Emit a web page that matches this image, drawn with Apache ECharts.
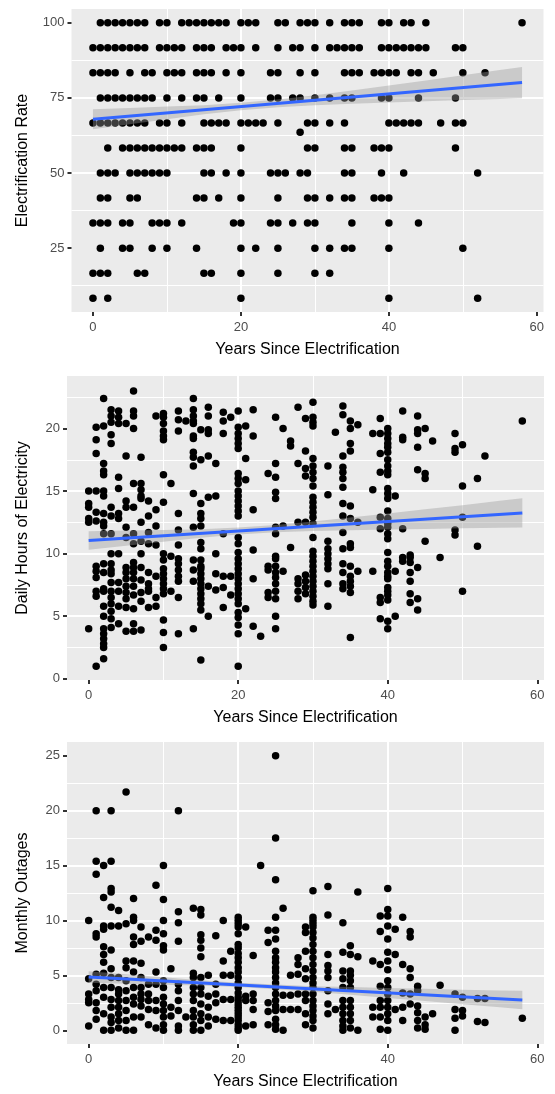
<!DOCTYPE html>
<html><head><meta charset="utf-8">
<script src="https://cdn.jsdelivr.net/npm/echarts@6/dist/echarts.min.js"></script>
<style>html,body{margin:0;padding:0;background:#fff}#c{width:555px;height:1094px}</style>
</head><body><div id="c"></div>
<script>
// ---------- tick labels ----------
const xTicks = [0, 20, 40, 60];
const rateTicks = [25, 50, 75, 100];
const hoursTicks = [0, 5, 10, 15, 20];
const outageTicks = [0, 5, 10, 15, 20, 25];

// ---------- panel 1: electrification rate (discrete levels) ----------
const rateLevels = [100, 91.67, 83.33, 75, 66.67, 58.33, 50, 41.67, 33.33, 25, 16.67, 8.33];
const rateYears = [
  [1,2,3,4,5,6,7,9,10,12,13,14,15,16,17,18,20,21,22,25,26,28,29,30,32,34,35,36,39,40,42,43,45,58],
  [0,1,2,3,4,5,6,7,9,10,11,12,14,15,16,18,19,20,22,25,27,28,30,32,33,34,35,36,39,40,41,42,43,44,45,49,50],
  [0,1,2,3,5,7,8,10,11,12,14,15,16,18,20,24,25,28,30,34,35,36,38,39,40,41,43,44,46,50,53],
  [1,2,3,4,5,6,7,8,10,12,14,15,17,20,24,25,27,28,30,32,34,35,39,40,44,49],
  [0,1,2,3,4,5,6,7,9,10,12,15,16,17,18,20,21,22,23,25,29,30,32,34,40,41,42,43,44,47,49,50],
  [2,4,5,6,7,8,9,10,11,12,14,15,16,20,29,30,34,35,38,39,40,49],
  [1,2,3,5,6,7,8,9,10,15,16,18,20,24,25,26,28,29,34,35,39,42,52],
  [1,2,5,6,14,15,17,20,25,29,30,32,34,35,38,39,40],
  [0,1,2,4,5,8,9,10,12,19,20,24,25,27,29,30,35,40,44],
  [1,4,5,8,10,14,20,22,25,30,32,34,35,40,50],
  [0,1,2,6,7,15,16,20,25,30,32],
  [0,2,20,40,52]
];
const rateExtra = [[28, 63.6]];

// ---------- panel 2: daily hours (year, [hours...]) ----------
const hoursCols = [
  [0, [15.0,14.0,13.7,12.8,12.5,4.0]],
  [1, [20.1,19.1,18.0,15.0,13.3,12.6,9.0,8.6,8.1,7.0,6.6,1.0]],
  [2, [22.4,20.2,17.2,16.6,16.3,15.0,14.6,13.2,12.5,12.2,11.6,9.2,8.5,7.2,7.0,5.8,5.0,4.0,3.6,3.2,2.8,2.5,1.6]],
  [3, [21.5,21.0,20.5,19.5,18.8,13.7,13.0,11.6,10.0,9.2,8.7,8.4,7.7,7.0,6.5,6.0,5.4,4.8,4.1]],
  [4, [21.4,20.9,20.4,16.1,15.2,13.2,12.8,10.0,7.7,7.0,5.8,4.4]],
  [5, [20.4,17.8,14.2,13.7,12.1,11.3,8.9,8.5,8.0,7.4,6.9,6.4,5.7,3.8]],
  [6, [23.0,21.4,21.0,20.0,15.6,13.7,11.6,10.8,9.3,8.9,8.5,8.0,7.4,6.7,5.6,4.4,3.8]],
  [7, [17.7,15.6,15.1,14.6,14.4,12.5,11.0,10.0,8.9,7.9,6.9,6.2,3.9]],
  [8, [14.2,13.0,11.7,10.8,8.5,7.6,7.2,7.0,5.7]],
  [9, [21.0,13.5,12.2,10.7,8.2,6.5,5.8]],
  [10, [21.2,20.9,20.4,19.8,19.4,19.1,16.3,14.1,10.0,9.5,8.8,8.4,8.0,7.6,7.2,6.8,4.7,3.7,2.5]],
  [11, [15.6,9.8,7.0]],
  [12, [21.4,20.7,19.8,13.2,11.9,10.7,9.6,9.2,8.7,8.2,7.8,6.5,3.6]],
  [13, [20.6]],
  [14, [22.4,21.5,21.0,20.6,20.4,19.4,19.2,18.1,17.7,17.0,14.8,12.1,9.5,8.7,7.8,4.0]],
  [15, [19.9,17.5,14.0,13.2,12.8,12.2,10.9,10.4,9.5,9.0,8.8,8.4,8.0,7.6,7.2,6.8,6.4,6.0,5.5,1.5]],
  [16, [21.7,21.0,19.9,19.6,17.8,14.5,7.4,5.0]],
  [17, [17.2,14.6,10.0,8.4,7.1]],
  [18, [21.3,20.6,19.6,11.6,8.2,7.3,5.7]],
  [19, [20.9,8.2,6.7]],
  [20, [21.4,20.1,19.6,19.2,18.8,18.4,16.4,16.0,15.6,15.0,14.6,14.2,13.8,13.4,13.0,11.3,10.8,10.1,9.6,9.2,8.8,8.4,8.0,7.6,7.2,6.8,6.4,6.0,5.3,4.9,4.3,3.6,1.0]],
  [21, [20.2,17.6,15.9,5.6]],
  [22, [21.5,19.4,13.5,10.3,8.0,4.2]],
  [23, [3.4]],
  [24, [16.4,9.0,8.7,6.9,6.5]],
  [25, [20.9,17.2,16.1,14.9,14.4,12.1,11.6,9.8,9.6,9.0,8.5,8.1,7.6,7.0,6.4,5.0,4.0]],
  [26, [20.0,12.2,8.6]],
  [27, [19.0,18.6,10.5]],
  [28, [21.7,17.2,12.5,8.0,7.6,7.0,6.4]],
  [29, [20.8,18.2,16.8,16.2,12.5,8.3,7.8,7.3,6.8]],
  [30, [22.1,20.9,20.5,20.2,17.6,17.0,16.5,16.0,15.4,14.5,14.1,13.7,13.3,12.9,12.4,11.3,10.2,9.8,9.4,9.0,8.6,8.2,7.8,7.4,7.0,6.6,6.2,5.9]],
  [32, [17.0,14.7,11.0,10.4,10.0,9.6,9.2,8.8,7.6,5.8]],
  [33, [19.7]],
  [34, [21.8,21.1,17.8,16.9,16.5,16.0,15.3,14.0,13.0,11.7,10.4,9.2,8.5,7.6,7.2]],
  [35, [20.6,20.0,18.8,18.2,13.8,12.8,10.8,10.5,9.0,8.2,7.8,7.4,6.9,3.3]],
  [36, [20.3,12.5,8.6]],
  [38, [19.6,15.1,8.6]],
  [39, [20.8,19.6,18.0,16.5,12.9,12.0,6.5,6.1,4.8]],
  [40, [20.0,19.6,19.2,18.8,18.5,18.1,17.5,17.0,16.6,16.3,15.2,14.8,14.4,13.4,12.8,12.4,12.1,11.6,11.2,10.1,9.4,9.0,8.5,8.2,8.0,7.3,7.0,6.7,6.3,4.6,4.0]],
  [41, [14.6,8.6,5.0]],
  [42, [21.4,19.3,19.1,12.0,9.7,9.4]],
  [43, [9.9,9.7,9.3,8.5,7.8,6.8,6.1]],
  [44, [21.0,19.9,19.6,18.5,16.7,8.9,6.4,5.5]],
  [45, [20.0,16.4,16.0,11.0]],
  [46, [19.0]],
  [47, [9.7]],
  [49, [19.6,18.4,18.1,11.9,11.5]],
  [50, [18.7,15.4,12.9,7.0]],
  [52, [16.0,10.6]],
  [53, [17.8]],
  [58, [20.6]]
];

// ---------- panel 3: monthly outages (year, [outages...]) ----------
const outageCols = [
  [0, [10.0,4.7,3.3,2.8,2.5,0.4]],
  [1, [20.0,15.4,14.2,8.8,8.5,5.1,4.2,3.6,2.5,1.8,1.0]],
  [2, [15.0,12.1,9.5,9.2,7.6,6.9,6.2,5.2,3.9,3.0,1.5,0]],
  [3, [20.0,15.4,12.9,12.6,11.2,9.5,7.3,5.6,4.8,3.9,2.8,2.1,1.2,0.7,0]],
  [4, [10.9,9.5,4.8,3.7,3.3,2.7,2.1,1.5,0.9,0.2]],
  [5, [21.7,9.7,6.3,5.7,4.5,3.6,2.7,1.8,0.9,0]],
  [6, [12.0,10.3,10.0,8.5,7.8,6.3,5.3,3.9,3.0,2.4,1.2,0]],
  [7, [9.4,8.1,6.1,4.8,3.9,3.3,2.8,2.2,1.2]],
  [8, [8.5,4.2,3.3,2.7,1.9,0.5]],
  [9, [13.2,9.1,8.2,5.3,4.2,2.7,1.8,0.2]],
  [10, [15.0,11.9,10.0,8.8,7.7,7.3,4.5,3.9,3.0,2.4,1.8,1.2,0.5,0]],
  [11, [5.6,2.1,1.3]],
  [12, [20.0,10.8,9.8,8.1,4.2,3.6,2.7,1.8,0.4,0]],
  [13, [1.2]],
  [14, [11.1,5.2,4.8,3.9,3.3,2.7,1.8,1.2,0.5,0]],
  [15, [11.0,10.5,8.7,8.2,7.5,6.7,4.8,3.9,3.3,2.4,1.5,0.9,0]],
  [16, [5.0,3.1,2.1,1.2,0.4]],
  [17, [8.6,4.2,3.3,2.5,1.0]],
  [18, [10.0,6.3,5.0,2.8,0.9]],
  [19, [7.2,5.0,2.8,0.9]],
  [20, [10.3,10.0,9.7,9.4,8.8,7.8,7.5,7.0,6.6,6.2,5.7,5.3,4.8,4.3,3.9,3.4,3.0,2.7,2.4,2.1,1.8,1.5,1.2,0.9,0.5,0.2,0]],
  [21, [9.4,3.1,2.7,0.4]],
  [22, [6.8,3.3,2.7,1.9,0.5]],
  [23, [15.0]],
  [24, [9.1,8.0,2.5,1.7,0.5]],
  [25, [25.0,17.5,13.7,10.3,9.1,8.3,7.2,6.6,6.2,5.7,5.3,4.8,4.3,3.9,3.3,2.7,2.2,1.8,1.0,0.5,0.1]],
  [26, [11.1,3.2,1.9,0]],
  [27, [5.0,3.2,1.9]],
  [28, [6.6,6.0,5.1,3.3,1.9]],
  [29, [9.4,8.9,7.2,5.6,4.7,3.3,2.7,1.5,0.5]],
  [30, [12.7,10.3,10.0,9.7,9.4,8.9,8.4,7.8,7.2,6.6,6.0,5.4,4.8,4.3,3.9,3.3,2.7,2.2,1.8,1.3,0.9,0.2]],
  [32, [13.1,10.5,6.9,5.9,5.4,4.8,3.6,2.4,1.5]],
  [33, [1.9]],
  [34, [9.8,7.1,5.4,4.7,3.9,2.7,2.1,1.5,0.9,0.4,0]],
  [35, [7.7,6.9,5.4,5.0,4.5,3.9,2.7,2.1,1.5,0.9,0.2]],
  [36, [12.6,6.7,0]],
  [38, [6.3,2.1,1.2]],
  [39, [10.4,9.0,6.0,4.0,2.7,2.1,1.2,0.1]],
  [40, [12.9,11.0,10.4,9.5,8.3,7.1,6.3,5.5,4.5,3.9,3.3,2.7,2.1,1.5,0.9,0]],
  [41, [9.2,6.9,1.9]],
  [42, [10.3,6.0,3.4,2.1,0.9]],
  [43, [9.0,8.5,5.6,4.8,3.3,2.4]],
  [44, [4.0,3.6,2.2,1.6,0.9,0.2]],
  [45, [1.2,0.5,0.1]],
  [46, [1.5]],
  [47, [4.1]],
  [49, [3.3,1.9,1.1,0]],
  [50, [3.0,1.8,1.3]],
  [52, [2.9,0.8]],
  [53, [2.9,0.7]],
  [58, [1.1]]
];

// ---------- fitted lines and confidence bands ----------
const bandX = [0, 5, 10, 15, 20, 25, 30, 35, 40, 45, 50, 55, 58];
const rateFit = [[0, 67.9], [58, 80.1]];
const rateLo = [64.6, 66.25, 67.9, 69.55, 70.85, 71.85, 72.55, 73.05, 73.5, 73.9, 74.3, 74.65, 74.9];
const rateHi = [71.2, 71.65, 72.1, 72.55, 73.35, 74.45, 75.85, 77.45, 79.1, 80.8, 82.5, 84.25, 85.3];
const hoursFit = [[0, 11.05], [58, 13.25]];
const hoursLo = [10.31, 10.63, 10.96, 11.28, 11.53, 11.71, 11.82, 11.88, 11.94, 11.98, 12.03, 12.06, 12.08];
const hoursHi = [11.79, 11.85, 11.90, 11.96, 12.09, 12.29, 12.56, 12.88, 13.20, 13.54, 13.87, 14.22, 14.42];
const outageFit = [[0, 4.85], [58, 2.75]];
const outageLo = [4.32, 4.24, 4.15, 4.07, 3.93, 3.74, 3.50, 3.23, 2.95, 2.67, 2.38, 2.09, 1.91];
const outageHi = [5.38, 5.10, 4.83, 4.55, 4.33, 4.16, 4.02, 3.93, 3.85, 3.77, 3.70, 3.63, 3.59];

// ---------- build ----------
const ratePts = [];
rateLevels.forEach((lv, i) => rateYears[i].forEach(x => ratePts.push([x, lv])));
rateExtra.forEach(p => ratePts.push(p));
function colsToPts(cols) {
  const out = [];
  cols.forEach(c => c[1].forEach(v => out.push([c[0], v])));
  return out;
}
const hoursPts = colsToPts(hoursCols);
const outagePts = colsToPts(outageCols);

const FONT = '"Liberation Sans", Arial, Helvetica, sans-serif';
const panels = [
  {grid: {left: 71.5, top: 9, width: 472, height: 303}, ymin: 3.75, ymax: 104.58, yint: 25, yTicks: rateTicks,
   yName: 'Electrification Rate', yGap: 40.5, pts: ratePts, fit: rateFit, lo: rateLo, hi: rateHi},
  {grid: {left: 67, top: 376, width: 477, height: 304}, ymin: -0.1, ymax: 24.2, yint: 5, yTicks: hoursTicks,
   yName: 'Daily Hours of Electricity', yGap: 36, pts: hoursPts, fit: hoursFit, lo: hoursLo, hi: hoursHi},
  {grid: {left: 67, top: 742, width: 477, height: 302}, ymin: -1.25, ymax: 26.25, yint: 5, yTicks: outageTicks,
   yName: 'Monthly Outages', yGap: 36, pts: outagePts, fit: outageFit, lo: outageLo, hi: outageHi}
];

const tickStyle = {color: '#333333', width: 2};
const grids = [], xAxes = [], yAxes = [], series = [];
panels.forEach((p, i) => {
  grids.push(Object.assign({show: true, backgroundColor: '#EBEBEB', borderWidth: 0}, p.grid));
  xAxes.push({
    type: 'value', gridIndex: i, min: -2.9, max: 60.9, minInterval: 20, maxInterval: 20,
    axisLine: {show: false, onZero: false},
    axisTick: {show: true, length: 4, lineStyle: tickStyle, customValues: xTicks},
    axisLabel: {customValues: xTicks, color: '#4D4D4D', fontSize: 13, margin: 9, fontFamily: FONT},
    splitLine: {show: true, showMinLine: false, showMaxLine: false, lineStyle: {color: '#FFFFFF', width: 2}},
    minorTick: {show: false, splitNumber: 2},
    minorSplitLine: {show: true, lineStyle: {color: '#FFFFFF', width: 1}},
    name: 'Years Since Electrification', nameLocation: 'middle', nameGap: 30,
    nameTextStyle: {color: '#000000', fontSize: 16, fontFamily: FONT}
  });
  yAxes.push({
    type: 'value', gridIndex: i, min: p.ymin, max: p.ymax, minInterval: p.yint, maxInterval: p.yint,
    axisLine: {show: false, onZero: false},
    axisTick: {show: true, length: 4, lineStyle: tickStyle, customValues: p.yTicks},
    axisLabel: {customValues: p.yTicks, color: '#4D4D4D', fontSize: 13, margin: 7, fontFamily: FONT},
    splitLine: {show: true, showMinLine: false, showMaxLine: false, lineStyle: {color: '#FFFFFF', width: 2}},
    minorTick: {show: false, splitNumber: 2},
    minorSplitLine: {show: true, lineStyle: {color: '#FFFFFF', width: 1}},
    name: p.yName, nameLocation: 'middle', nameGap: p.yGap, nameRotate: 90,
    nameTextStyle: {color: '#000000', fontSize: 16, fontFamily: FONT}
  });
  series.push({
    type: 'scatter', xAxisIndex: i, yAxisIndex: i, data: p.pts, symbol: 'circle', symbolSize: 7.5,
    itemStyle: {color: '#000000', opacity: 1}, silent: true, z: 2, animation: false
  });
  const lo = p.lo, hi = p.hi;
  series.push({
    type: 'custom', xAxisIndex: i, yAxisIndex: i, silent: true, z: 3, animation: false,
    data: bandX.map((x, k) => [x, lo[k], hi[k]]),
    encode: {x: 0, y: [1, 2]},
    renderItem: function (params, api) {
      if (params.dataIndex !== 0) return null;
      const pts = [];
      for (let k = 0; k < bandX.length; k++) pts.push(api.coord([bandX[k], hi[k]]));
      for (let k = bandX.length - 1; k >= 0; k--) pts.push(api.coord([bandX[k], lo[k]]));
      return {type: 'polygon', shape: {points: pts}, style: {fill: 'rgba(153,153,153,0.4)'}};
    }
  });
  series.push({
    type: 'line', xAxisIndex: i, yAxisIndex: i, data: p.fit, symbol: 'none', silent: true, z: 4,
    lineStyle: {color: '#3366FF', width: 3}, animation: false
  });
});

const chart = echarts.init(document.getElementById('c'), null, {renderer: 'canvas'});
chart.setOption({animation: false, grid: grids, xAxis: xAxes, yAxis: yAxes, series: series});
</script>
</body></html>
